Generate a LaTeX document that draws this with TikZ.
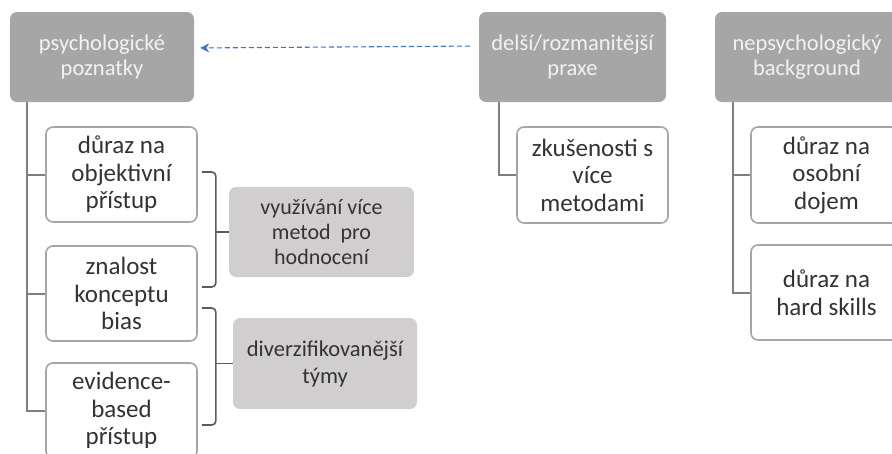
\documentclass[tikz,border=0pt]{standalone}
\usepackage{fontspec}
\setmainfont{Carlito}
\usetikzlibrary{arrows.meta,calc}
\definecolor{darkbox}{HTML}{A6A6A6}
\definecolor{lightbox}{HTML}{D0CECE}
\definecolor{edgegray}{HTML}{A6A6A6}
\definecolor{linegray}{HTML}{7F7F7F}
\definecolor{txt}{HTML}{333333}
\definecolor{arrowblue}{HTML}{4472C4}
\tikzset{
  base/.style={rounded corners=7pt, align=center, inner sep=0pt, font=\fontsize{22.5}{25}\selectfont},
  darkb/.style={base, fill=darkbox, text=white!95!black, minimum width=184pt, minimum height=90pt},
  lightb/.style={base, fill=lightbox, text=txt, minimum width=185pt, minimum height=90pt},
  whiteb/.style={base, draw=edgegray, line width=1.6pt, fill=white, text=txt, minimum width=151pt, minimum height=95pt, font=\fontsize{25}{27.5}\selectfont},
  conn/.style={draw=linegray, line width=2pt},
  brack/.style={draw=txt!80, line width=1.6pt, rounded corners=4pt},
}
\begin{document}
\begin{tikzpicture}[x=1pt,y=-1pt]
\useasboundingbox (0,0) rectangle (892,453);
\clip (0,0) rectangle (892,453);
% top boxes
\node[darkb] (P) at (102,57) {psychologické\\poznatky};
\node[darkb, minimum width=187pt] (R) at (572.5,57) {delší/rozmanitější\\praxe};
\node[darkb] (N) at (807,57) {nepsychologický\\background};
% children
\node[whiteb] (A) at (121.5,174.5) {důraz na\\objektivní\\přístup};
\node[whiteb] (B) at (121.5,293.5) {znalost\\konceptu\\bias};
\node[whiteb] (C) at (121.5,410.5) {evidence-\\based\\přístup};
\node[whiteb, minimum height=96pt] (Z) at (592.5,175) {zkušenosti s\\více\\metodami};
\node[whiteb, minimum height=96pt] (D) at (826.5,175) {důraz na\\osobní\\dojem};
\node[whiteb] (E) at (826.5,292.5) {důraz na\\hard skills};
% light boxes
\node[lightb, font=\fontsize{22}{25}\selectfont] (M) at (321.5,232) {využívání více\\metod~ pro\\hodnocení};
\node[lightb, minimum width=184pt, minimum height=91pt, font=\fontsize{22.5}{27}\selectfont] (V) at (325,363.5) {diverzifikovanější\\týmy};
% tree connectors
\coordinate (p0) at ($(P.south west)+(17,0)$);
\draw[conn] (p0) |- (C.west);
\draw[conn] (p0 |- A.west) -- (A.west);
\draw[conn] (p0 |- B.west) -- (B.west);
\coordinate (r0) at ($(R.south west)+(20,0)$);
\draw[conn] (r0) |- (Z.west);
\coordinate (n0) at ($(N.south west)+(18,0)$);
\draw[conn] (n0) |- (E.west);
\draw[conn] (n0 |- D.west) -- (D.west);
% brackets
\coordinate (b1t) at ($(A.east)+(4,-2.5)$);
\coordinate (b1b) at ($(B.east)+(4,-6.5)$);
\coordinate (b1m) at ($(b1t)+(14,0)$);
\draw[brack] (b1t) -- (b1m) |- (b1b);
\draw[brack] (b1m |- M.west) -- (M.west);
\coordinate (b2t) at ($(B.east)+(4,14.5)$);
\coordinate (b2b) at ($(C.east)+(4,14.5)$);
\coordinate (b2m) at ($(b2t)+(14,0)$);
\draw[brack] (b2t) -- (b2m) |- (b2b);
\draw[brack] (b2m |- V.west) -- (V.west);
% dashed arrow
\draw[arrowblue, line width=1.1pt, dash pattern=on 5pt off 3pt, -{Stealth[length=9pt,width=9pt]}, shorten >=6pt, shorten <=9pt] ($(R.west)+(0,-11)$) -- ($(P.east)+(0,-9)$);
\end{tikzpicture}
\end{document}
